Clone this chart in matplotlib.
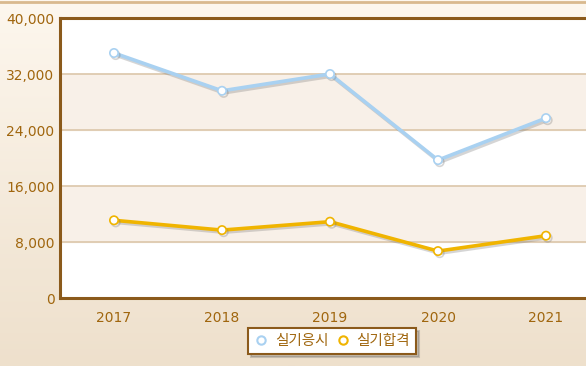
import matplotlib.pyplot as plt
import matplotlib.patheffects as pe
import numpy as np
from matplotlib.lines import Line2D

plt.rcParams["font.family"] = ["DejaVu Sans"]

years = ["2017", "2018", "2019", "2020", "2021"]
applicants = [35000, 29600, 32000, 19700, 25700]
passed = [11100, 9700, 10900, 6700, 8900]
y_ticks = [0, 8000, 16000, 24000, 32000, 40000]

TEXT_COLOR = "#a0660e"
AXIS_COLOR = "#8b5a1b"
BLUE = "#a9d1f1"
YELLOW = "#f0b400"

fig = plt.figure(figsize=(5.86, 3.66), dpi=100)

# background gradient
bg = fig.add_axes([0, 0, 1, 1], zorder=-10)
grad = np.linspace(0, 1, 256).reshape(-1, 1)
top_c = np.array([0xfd, 0xf7, 0xee]) / 255
bot_c = np.array([0xee, 0xe0, 0xcc]) / 255
img = top_c + (bot_c - top_c) * grad[..., None]
bg.imshow(img.reshape(256, 1, 3), aspect="auto", extent=[0, 1, 0, 1], origin="upper")
bg.axhline(0.994, color="#d9b98e", linewidth=2)
bg.set_xlim(0, 1)
bg.set_ylim(0, 1)
bg.axis("off")

ax = fig.add_axes([60 / 586, 68 / 366, 540 / 586, 280 / 366])
ax.set_facecolor("white")
x = np.arange(len(years))
ax.set_xlim(-0.5, len(years) - 0.5)
ax.set_ylim(0, 40000)

# alternating bands
for i in range(len(y_ticks) - 1):
    if i % 2 == 1:
        ax.axhspan(y_ticks[i], y_ticks[i + 1], color="#f8f0e8", zorder=0)
for yt in y_ticks[1:-1]:
    ax.axhline(yt, color="#dcc7aa", linewidth=1.2, zorder=1)

shadow = [pe.SimpleLineShadow(offset=(1.2, -1.5), shadow_color="#777777", alpha=0.3), pe.Normal()]
for vals, color in [(applicants, BLUE), (passed, YELLOW)]:
    ax.plot(
        x, vals, color=color, linewidth=2.6, zorder=3,
        marker="o", markersize=6, markerfacecolor="white",
        markeredgecolor=color, markeredgewidth=1.2,
        path_effects=shadow,
    )

ax.set_xticks(x)
ax.set_xticklabels(years)
ax.set_yticks(y_ticks)
ax.set_yticklabels([f"{v:,}" for v in y_ticks])
ax.tick_params(axis="both", length=0, colors=TEXT_COLOR, labelsize=10)
ax.tick_params(axis="x", pad=9)
ax.tick_params(axis="y", pad=4)
for side in ["left", "top", "bottom", "right"]:
    ax.spines[side].set_color(AXIS_COLOR)
    ax.spines[side].set_linewidth(2.2)

handles = [
    Line2D([0], [0], color="none", marker="o", markersize=6, markerfacecolor="white",
           markeredgecolor=BLUE, markeredgewidth=1.5),
    Line2D([0], [0], color="none", marker="o", markersize=6, markerfacecolor="white",
           markeredgecolor=YELLOW, markeredgewidth=1.5),
]
leg = fig.legend(
    handles, ["실기응시", "실기합격"], loc="center",
    bbox_to_anchor=(332 / 586, 1 - 341 / 366), ncol=2, frameon=True,
    fancybox=False, shadow={"ox": 2, "oy": -2, "alpha": 0.25}, handlelength=1.0,
    handletextpad=0.45, columnspacing=0.45, borderpad=0.4,
    labelcolor=TEXT_COLOR,
    prop={"family": ["Noto Sans CJK KR", "DejaVu Sans"], "size": 10.5},
)
leg.get_frame().set_edgecolor(AXIS_COLOR)
leg.get_frame().set_linewidth(1.5)
leg.get_frame().set_facecolor("white")

fig.savefig("out.png", dpi=100)
